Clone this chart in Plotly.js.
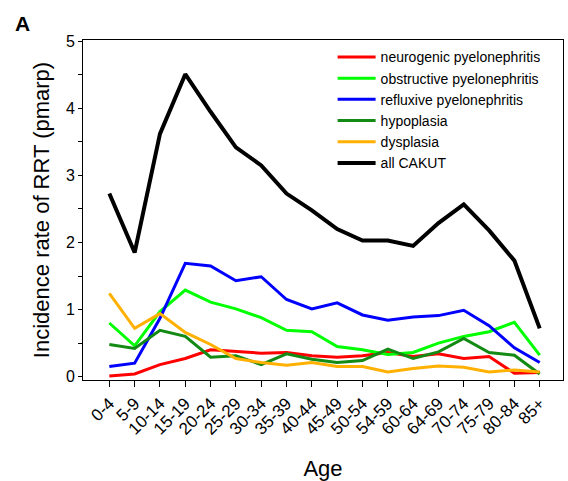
<!DOCTYPE html>
<html>
<head>
<meta charset="utf-8">
<script src="https://cdn.plot.ly/plotly-3.0.1.min.js"></script>
<style>html,body{margin:0;padding:0;background:#fff;}#chart{width:568px;height:481px;}</style>
</head>
<body>
<div id="chart"></div>
<script>
var ageGroups = ["0-4","5-9","10-14","15-19","20-24","25-29","30-34","35-39","40-44","45-49","50-54","54-59","60-64","64-69","70-74","75-79","80-84","85+"];
var neurogenic = [0.01,0.04,0.18,0.27,0.40,0.38,0.35,0.36,0.31,0.29,0.31,0.36,0.30,0.34,0.27,0.30,0.05,0.06];
var obstructive = [0.80,0.46,0.97,1.29,1.11,1.01,0.88,0.69,0.67,0.45,0.40,0.33,0.36,0.50,0.60,0.67,0.81,0.32];
var refluxive = [0.15,0.20,0.87,1.69,1.65,1.43,1.49,1.15,1.01,1.10,0.92,0.84,0.89,0.91,0.99,0.76,0.43,0.21];
var hypoplasia = [0.48,0.42,0.69,0.60,0.29,0.31,0.18,0.34,0.26,0.21,0.24,0.41,0.27,0.37,0.57,0.36,0.32,0.04];
var dysplasia = [1.24,0.72,0.94,0.66,0.48,0.27,0.21,0.17,0.21,0.15,0.15,0.07,0.12,0.16,0.14,0.07,0.10,0.07];
var allCakut = [2.73,1.85,3.62,4.51,3.95,3.42,3.15,2.73,2.48,2.20,2.03,2.03,1.95,2.29,2.57,2.18,1.73,0.72];

var seriesNames = ["neurogenic pyelonephritis","obstructive pyelonephritis","refluxive pyelonephritis","hypoplasia","dysplasia","all CAKUT"];
var seriesData = [neurogenic, obstructive, refluxive, hypoplasia, dysplasia, allCakut];
var seriesColors = ["#ff0000","#00ff00","#0000ff","#138a13","#ffb000","#000000"];
var seriesWidths = [3,3,3,3,3,4];

var xIdx = ageGroups.map(function(_, i){ return i; });
var traces = seriesData.map(function(d, k){
  return {x: xIdx, y: d, type: 'scatter', mode: 'lines', name: seriesNames[k],
    line: {color: seriesColors[k], width: seriesWidths[k]}};
});

var layout = {
  width: 568, height: 481,
  margin: {l: 83, r: 5, t: 40, b: 101},
  paper_bgcolor: '#fff', plot_bgcolor: '#fff',
  font: {family: 'Liberation Sans, Arial, sans-serif', color: '#000'},
  showlegend: true,
  legend: {x: 0.52, y: 0.996, xanchor: 'left', yanchor: 'top', bgcolor: 'rgba(0,0,0,0)',
    font: {size: 14}, tracegroupgap: 0, itemwidth: 38},
  xaxis: {
    range: [-1.04, 17.92], tickvals: xIdx, ticktext: ageGroups, tickangle: -45,
    ticks: 'outside', ticklen: 6, tickwidth: 1, tickcolor: '#000',
    showline: true, linecolor: '#000', linewidth: 1, mirror: true,
    showgrid: false, zeroline: false, tickfont: {size: 17},
    title: {text: 'Age', font: {size: 22}, standoff: 24}
  },
  yaxis: {
    range: [-0.05, 5.02], tickvals: [0,1,2,3,4,5],
    ticks: 'outside', ticklen: 4, tickwidth: 1, tickcolor: '#000',
    minor: {tickvals: [0.5,1.5,2.5,3.5,4.5], ticks: 'outside', ticklen: 4, tickcolor: '#000', showgrid: false},
    showline: true, linecolor: '#000', linewidth: 1, mirror: true,
    showgrid: false, zeroline: false, tickfont: {size: 16},
    title: {text: 'Incidence rate of RRT (pmarp)', font: {size: 22}, standoff: 10}
  },
  annotations: [{text: '<b>A</b>', xref: 'paper', yref: 'paper', x: -0.145, y: 1.01,
    xanchor: 'left', yanchor: 'bottom', showarrow: false, font: {size: 21}}]
};

Plotly.newPlot('chart', traces, layout, {displayModeBar: false, staticPlot: true});
</script>
</body>
</html>
